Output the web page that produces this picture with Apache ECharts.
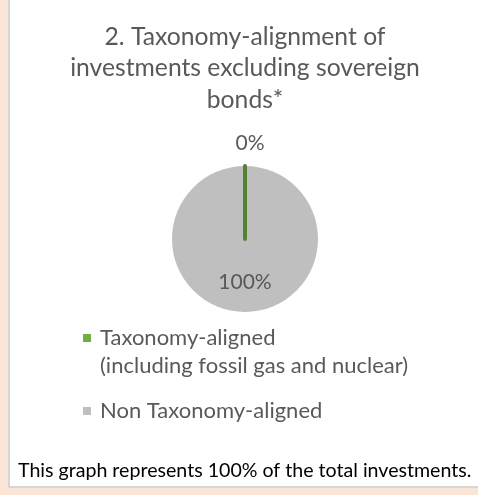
<!DOCTYPE html>
<html>
<head>
<meta charset="utf-8">
<script src="https://cdn.jsdelivr.net/npm/echarts@6/dist/echarts.min.js"></script>
<style>
  html, body { margin: 0; padding: 0; }
  body { width: 478px; height: 495px; background: #fbe5d6; position: relative; overflow: hidden; }
  #panel { position: absolute; left: 8px; top: 0; width: 470px; height: 488px; background: #fff;
           border-left: 2px solid #d6d6d6; border-bottom: 2px solid #d6d6d6; box-sizing: border-box; }
  #chart { position: absolute; left: 12px; top: 0; width: 466px; height: 487px; }
</style>
</head>
<body>
<div id="panel"></div>
<div id="chart"></div>
<script>
// Share of investments (sovereign bonds excluded)
const categories = ['Taxonomy-aligned\n(including fossil gas and nuclear)', 'Non Taxonomy-aligned'];
const values = [0, 100];
const colors = ['#70ad47', '#bfbfbf'];
const titleText = '2. Taxonomy-alignment of\ninvestments excluding sovereign\nbonds*';
const noteText = 'This graph represents 100% of the total investments.';

const FONT = 'Lato';
const chart = echarts.init(document.getElementById('chart'), null, { renderer: 'canvas' });

// Grey slice first so the zero-width aligned slice is painted on top of it
const pieData = [
  { name: categories[1], value: values[1], itemStyle: { color: colors[1] },
    label: { position: 'inside' } },
  { name: categories[0], value: values[0],
    itemStyle: { color: colors[0], borderColor: '#548235', borderWidth: 4, borderCap: 'round' },
    label: { position: 'outside' },
    labelLine: { show: false, length: 23, length2: 0 } }
];

// Plain square markers in the legend, no slice outline
const legendData = categories.map(function (name, i) {
  return { name: name, itemStyle: { color: colors[i], borderWidth: 0, borderColor: 'transparent' } };
});

chart.setOption({
  animation: false,
  title: [
    { text: titleText, left: 'center', top: 16,
      textStyle: { fontFamily: FONT, fontSize: 24.7, fontWeight: 'normal', color: '#595959', lineHeight: 31.5 } },
    { text: noteText, left: 1, top: 456,
      textStyle: { fontFamily: FONT, fontSize: 19.6, fontWeight: 'normal', color: '#000000' } }
  ],
  legend: {
    orient: 'vertical', left: 66, top: 291,
    data: legendData, icon: 'rect', itemWidth: 8, itemHeight: 8, itemGap: 17,
    selectedMode: false,
    itemStyle: { borderWidth: 0 },
    // blank first line keeps the marker level with the first text line
    formatter: function (name) { return name.indexOf('\n') >= 0 ? '\n' + name : name; },
    textStyle: { fontFamily: FONT, fontSize: 22, color: '#595959', lineHeight: 28, padding: [0, 0, 0, 4] }
  },
  series: [{
    type: 'pie',
    center: [233, 239],
    radius: 73,
    startAngle: 90,
    clockwise: true,
    avoidLabelOverlap: false,
    data: pieData,
    label: { formatter: '{d}%', fontFamily: FONT, fontSize: 21, color: '#595959' },
    labelLine: { show: false },
    labelLayout: function (p) {
      return p.dataIndex === 1 ? { align: 'center' } : { dy: 4 };
    },
    emphasis: { disabled: true }
  }]
});
</script>
</body>
</html>
